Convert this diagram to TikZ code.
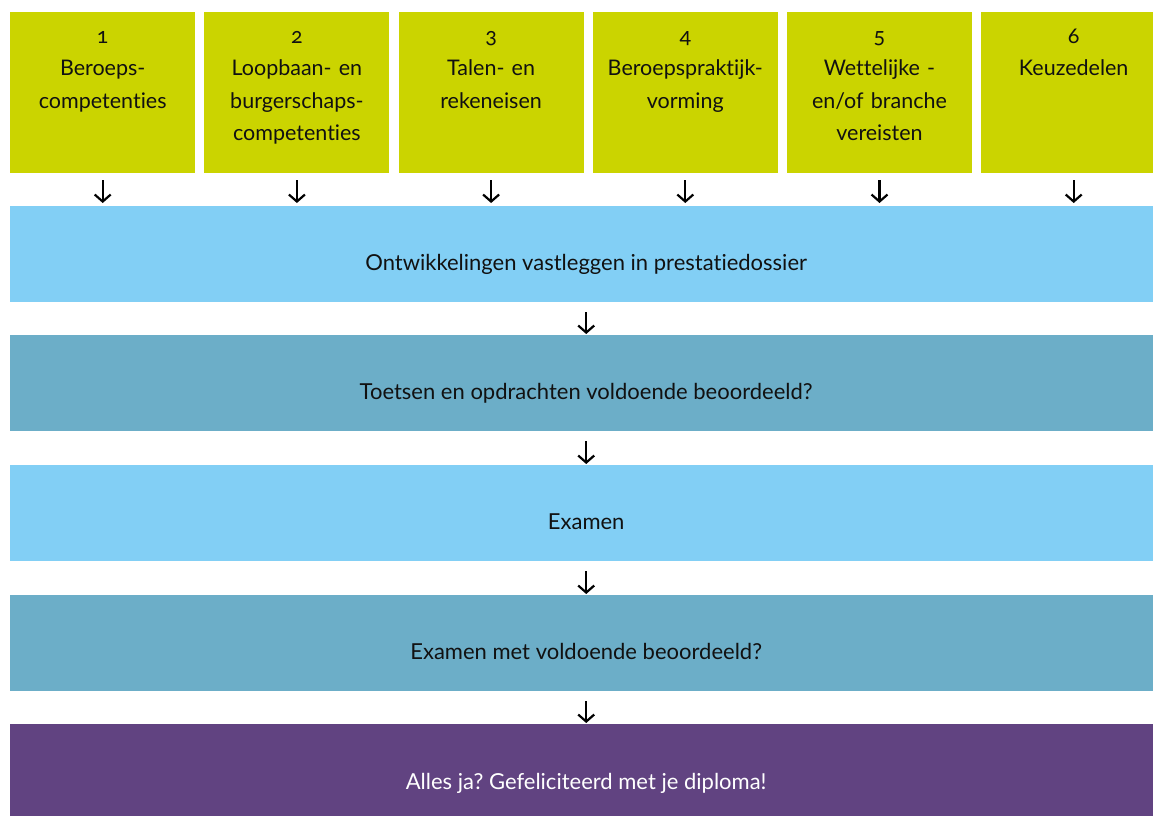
\documentclass[tikz,border=0pt]{standalone}
\usepackage{fontspec}
\setmainfont[Numbers=OldStyle,Ligatures=NoCommon]{Lato}
\usetikzlibrary{arrows.meta}
\definecolor{cgreen}{HTML}{CBD400}
\definecolor{clight}{HTML}{82CFF5}
\definecolor{cdark}{HTML}{6CAEC8}
\definecolor{cpurple}{HTML}{614381}
\definecolor{ctext}{HTML}{111111}
\frenchspacing
\begin{document}
\begin{tikzpicture}[x=1pt,y=-1pt,
  topbox/.style={fill=cgreen, minimum width=185pt, minimum height=161pt, inner sep=0pt, anchor=north west},
  band/.style={minimum width=1152pt, minimum height=96pt, inner sep=0pt, anchor=north west},
  lbl/.style={font=\fontsize{22}{32.5}\selectfont, align=center, anchor=base, text=ctext, inner sep=0pt},
  toplbl/.style={lbl, font=\fontsize{21.5}{32.5}\selectfont, text width=183pt},
  arr/.style={-{Straight Barb[length=7pt,width=16pt]}, line width=2.2pt, black}]
\useasboundingbox (0,0) rectangle (1153,815);
\clip (0,0) rectangle (1153,815);
% top boxes
\node[topbox] (b1) at (10,12) {};
\node[topbox] (b2) at (204.2,12) {};
\node[topbox] (b3) at (398.4,12) {};
\node[topbox] (b4) at (592.6,12) {};
\node[topbox] (b5) at (786.8,12) {};
\node[topbox] (b6) at (981,12) {};
\node[toplbl] (t1) at (b1.center |- 0,43) {1\\Beroeps-\\competenties};
\node[toplbl] (t2) at (b2.center |- 0,43) {2\\Loopbaan- en\\burgerschaps-\\competenties};
\node[toplbl] (t3) at (b3.center |- 0,43) {3\\Talen- en\\rekeneisen};
\node[toplbl] (t4) at (b4.center |- 0,43) {4\\Beroepspraktijk-\\vorming};
\node[toplbl] (t5) at (b5.center |- 0,43) {5\\Wettelijke -\\en/of branche\\vereisten};
\node[toplbl] (t6) at (b6.center |- 0,43) {6\\Keuzedelen};
% bands
\node[band, fill=clight] (r1) at (10,206) {};
\node[band, fill=cdark] (r2) at (10,335) {};
\node[band, fill=clight] (r3) at (10,465) {};
\node[band, fill=cdark] (r4) at (10,595) {};
\node[band, fill=cpurple] (r5) at (10,724) {};
\node[lbl] (l1) at (r1.center |- 0,270) {Ontwikkelingen vastleggen in prestatiedossier};
\node[lbl] (l2) at (r2.center |- 0,399) {Toetsen en opdrachten voldoende beoordeeld?};
\node[lbl] (l3) at (r3.center |- 0,529) {Examen};
\node[lbl] (l4) at (r4.center |- 0,659) {Examen met voldoende beoordeeld?};
\node[lbl, text=white] (l5) at (r5.center |- 0,789) {Alles ja? Gefeliciteerd met je diploma!};
% arrows
\foreach \b in {b1,b2,b3,b4,b5,b6}
  \draw[arr, shorten <=7pt, shorten >=3pt] (\b.south) -- (\b.south |- r1.north);
\draw[arr, shorten <=10pt, shorten >=1pt] (r1.south) -- (r2.north);
\draw[arr, shorten <=10pt, shorten >=1pt] (r2.south) -- (r3.north);
\draw[arr, shorten <=10pt, shorten >=1pt] (r3.south) -- (r4.north);
\draw[arr, shorten <=10pt, shorten >=1pt] (r4.south) -- (r5.north);
\end{tikzpicture}
\end{document}
